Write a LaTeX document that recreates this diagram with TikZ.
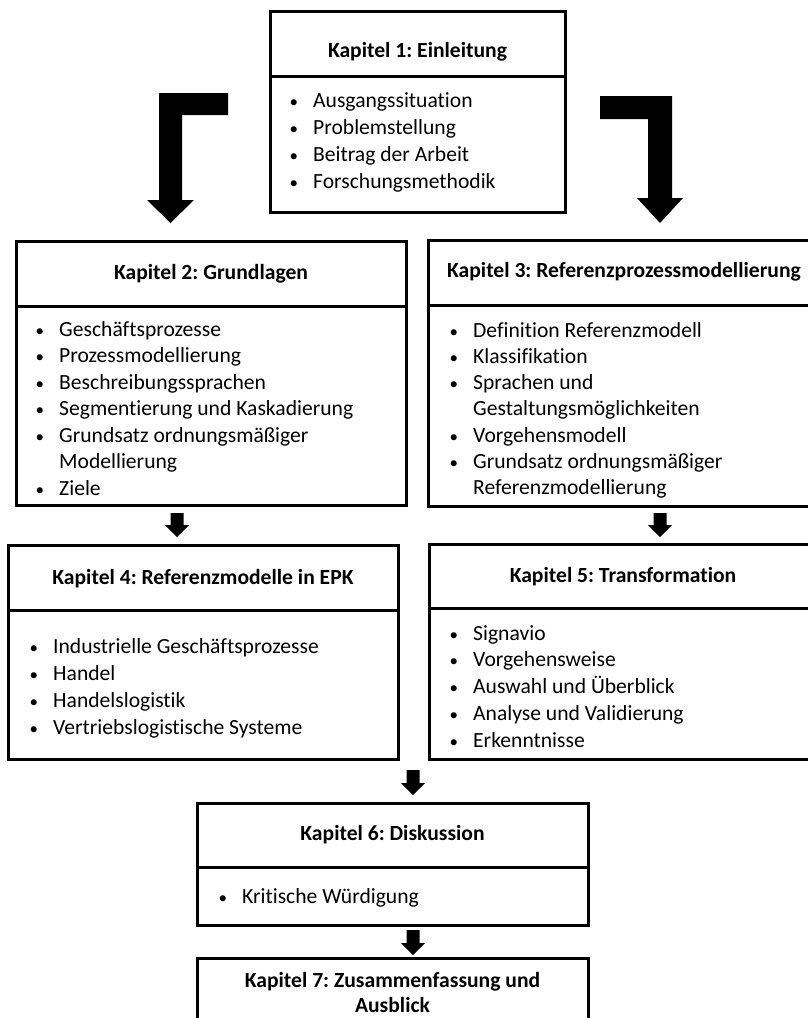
\documentclass[tikz,border=0pt]{standalone}
\usepackage{fontspec}
\setmainfont{Carlito}[Ligatures=CommonOff]
\frenchspacing

% list bullet, a little smaller than the text
\newcommand\listdot{\makebox[24pt][l]{\hspace{0.5pt}{\fontsize{17}{17}\selectfont\textbullet}}}

% one line of a bullet list: flag 1 = bullet, 0 = continuation line
% #1 name prefix, #2 x, #3 first baseline, #4 line pitch, #5 list of flag/text
\newcommand\itemlines[5]{%
  \foreach [count=\n] \f/\t in {#5} {%
    \node[itemtext] (#1\n) at (#2, {#3+(\n-1)*#4})
      {\ifnum\f=1 \listdot\else\hspace*{24pt}\fi\t};
  }}

% small block arrow pointing down: #1 centre x, #2 top y, #3 tip y
\newcommand\smallarrow[3]{%
  \fill[black] (#1-6.5,#2) -- (#1+6.5,#2) -- (#1+6.5,#3-12) -- (#1+12,#3-12)
    -- (#1,#3) -- (#1-12,#3-12) -- (#1-6.5,#3-12) -- cycle;}

\begin{document}
\begin{tikzpicture}[x=1pt,y=-1pt,
  part/.style={draw=black, line width=3pt, fill=white, inner sep=0pt,
    outer sep=0pt, anchor=north west},
  headtext/.style={font=\fontsize{21.6}{26}\selectfont\bfseries, inner sep=0pt,
    anchor=base},
  itemtext/.style={font=\fontsize{21.6}{26}\selectfont, inner sep=0pt,
    anchor=base west},
]
\clip (0,0) rectangle (808,1018);
\fill[white] (0,0) rectangle (808,1018);

% Kapitel 1
\node[part, minimum width=295pt, minimum height=65pt] (k1h) at (270,11) {};
\node[part, minimum width=295pt, minimum height=136pt] (k1b) at (270,76) {};
\node[headtext] (k1t) at (417.5,57) {Kapitel 1: Einleitung};
\itemlines{k1i}{289}{107}{27.3}{1/Ausgangssituation, 1/Problemstellung,
  1/Beitrag der Arbeit, 1/Forschungsmethodik}

% elbow arrows from the introduction
\fill[black] (159,93) -- (228,93) -- (228,115) -- (182,115) -- (182,200)
  -- (194,200) -- (170.5,223) -- (147,200) -- (159,200) -- cycle;
\fill[black] (600,96) -- (672,96) -- (672,198) -- (683,198) -- (660,223)
  -- (637,198) -- (648,198) -- (648,119) -- (600,119) -- cycle;

% Kapitel 2
\node[part, minimum width=390pt, minimum height=65pt] (k2h) at (16,241) {};
\node[part, minimum width=390pt, minimum height=199pt] (k2b) at (16,306) {};
\node[headtext] (k2t) at (211,279) {Kapitel 2: Grundlagen};
\itemlines{k2i}{35}{336}{26.5}{1/Geschäftsprozesse, 1/Prozessmodellierung,
  1/Beschreibungssprachen, 1/Segmentierung und Kaskadierung,
  1/Grundsatz ordnungsmäßiger, 0/Modellierung, 1/Ziele}

% Kapitel 3
\node[part, minimum width=392pt, minimum height=65pt] (k3h) at (428,240) {};
\node[part, minimum width=392pt, minimum height=201pt] (k3b) at (428,305) {};
\node[headtext] (k3t) at (624,277) {Kapitel 3: Referenzprozessmodellierung};
\itemlines{k3i}{449}{337}{26.3}{1/Definition Referenzmodell, 1/Klassifikation,
  1/Sprachen und, 0/Gestaltungsmöglichkeiten, 1/Vorgehensmodell,
  1/Grundsatz ordnungsmäßiger, 0/Referenzmodellierung}

\smallarrow{177}{513}{537}
\smallarrow{660}{513}{537}

% Kapitel 4
\node[part, minimum width=390pt, minimum height=65pt] (k4h) at (8,545) {};
\node[part, minimum width=390pt, minimum height=149pt] (k4b) at (8,610) {};
\node[headtext] (k4t) at (203,584) {Kapitel 4: Referenzmodelle in EPK};
\itemlines{k4i}{29}{653}{27.3}{1/Industrielle Geschäftsprozesse, 1/Handel,
  1/Handelslogistik, 1/Vertriebslogistische Systeme}

% Kapitel 5
\node[part, minimum width=391pt, minimum height=64pt] (k5h) at (429,544) {};
\node[part, minimum width=391pt, minimum height=151pt] (k5b) at (429,608) {};
\node[headtext] (k5t) at (623,582) {Kapitel 5: Transformation};
\itemlines{k5i}{449}{640}{26.8}{1/Signavio, 1/Vorgehensweise,
  1/Auswahl und Überblick, 1/Analyse und Validierung, 1/Erkenntnisse}

\smallarrow{413}{770}{795}

% Kapitel 6
\node[part, minimum width=391pt, minimum height=64pt] (k6h) at (197,803) {};
\node[part, minimum width=391pt, minimum height=58pt] (k6b) at (197,867) {};
\node[headtext] (k6t) at (392.5,840) {Kapitel 6: Diskussion};
\itemlines{k6i}{218}{903}{26.8}{1/Kritische Würdigung}

\smallarrow{413}{930}{955}

% Kapitel 7
\node[part, minimum width=391pt, minimum height=100pt] (k7h) at (197,958) {};
\node[headtext] (k7ta) at (392.5,987) {Kapitel 7: Zusammenfassung und};
\node[headtext] (k7tb) at (392.5,1012) {Ausblick};
\end{tikzpicture}
\end{document}
